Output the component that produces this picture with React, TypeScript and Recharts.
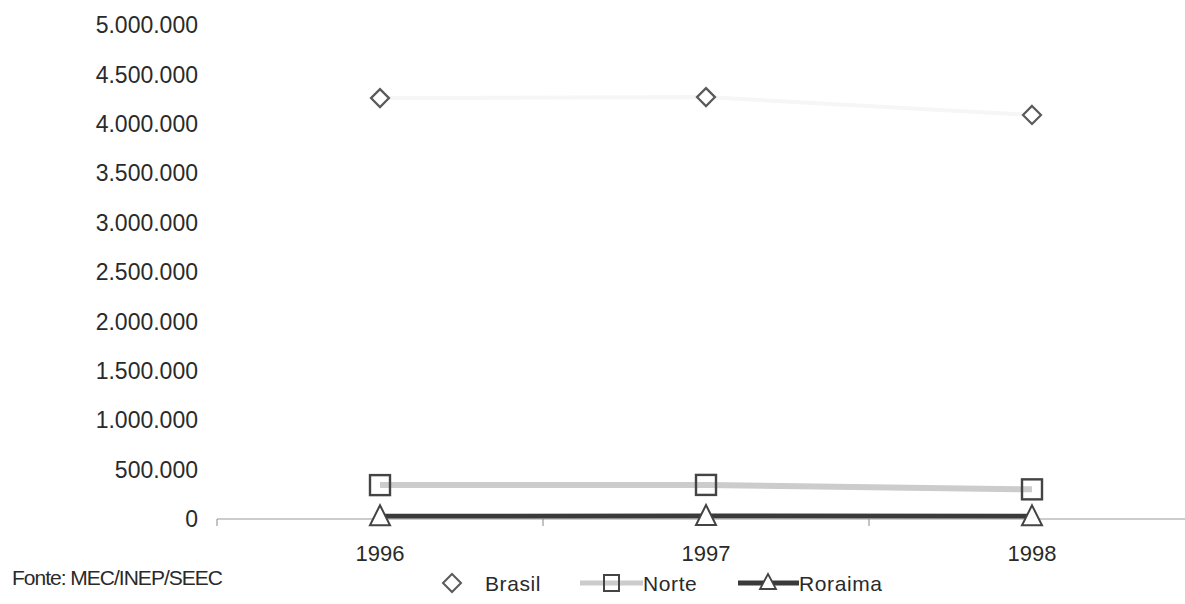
import React from "react";
import { LineChart, Line, XAxis, YAxis } from "recharts";

const years = [1996, 1997, 1998];
const brasil = [4260000, 4270000, 4090000];
const norte = [343000, 345000, 300000];
const roraima = [28000, 30000, 27000];
const yTicks = [0, 500000, 1000000, 1500000, 2000000, 2500000, 3000000, 3500000, 4000000, 4500000, 5000000];
const xTicks = [1995.5, 1996, 1996.5, 1997, 1997.5, 1998, 1998.5];

const data = years.map((year, i) => ({
  year,
  brasil: brasil[i],
  norte: norte[i],
  roraima: roraima[i]
}));

const font = "'Liberation Sans', Arial, sans-serif";

const fmt = (v: number) => v.toLocaleString("de-DE");

const Diamond = (props: any) => {
  const { cx, cy, index } = props;
  const r = 9;
  return (
    <path
      key={`d-${index}`}
      d={`M${cx},${cy - r}L${cx + r},${cy}L${cx},${cy + r}L${cx - r},${cy}Z`}
      fill="#fff"
      stroke="#5a5a5a"
      strokeWidth={2.2}
    />
  );
};

const Square = (props: any) => {
  const { cx, cy, index } = props;
  return (
    <rect
      key={`s-${index}`}
      x={cx - 10}
      y={cy - 10}
      width={20}
      height={20}
      fill="none"
      stroke="#444"
      strokeWidth={2.4}
    />
  );
};

const Triangle = (props: any) => {
  const { cx, cy, index } = props;
  return (
    <path
      key={`t-${index}`}
      d={`M${cx},${cy - 11}L${cx + 10},${cy + 9}L${cx - 10},${cy + 9}Z`}
      fill="#fff"
      stroke="#444"
      strokeWidth={2}
    />
  );
};

const XTick = (props: any) => {
  const { x, y, payload } = props;
  const v = payload.value as number;
  if (v % 1 !== 0) {
    return <line x1={x} x2={x} y1={y} y2={y + 7} stroke="#888" strokeWidth={1} />;
  }
  return (
    <text x={x} y={y + 42} textAnchor="middle" fontFamily={font} fontSize={22} fill="#2a2a2a">
      {v}
    </text>
  );
};

export default function App() {
  return (
    <div style={{ position: "absolute", left: 0, top: 0, width: 1185, height: 604, overflow: "hidden", background: "#fff" }}>
      <LineChart
        width={1195}
        height={604}
        data={data}
        margin={{ top: 25, right: 0, bottom: 0, left: 0 }}
      >
        <XAxis
          dataKey="year"
          type="number"
          domain={[1995.5, 1998.5]}
          ticks={xTicks}
          interval={0}
          tickSize={0}
          tickMargin={0}
          tickLine={false}
          tick={<XTick />}
          axisLine={{ stroke: "#999", strokeWidth: 1 }}
          height={85}
        />
        <YAxis
          domain={[0, 5000000]}
          ticks={yTicks}
          interval={0}
          width={217}
          tickSize={0}
          tickMargin={19}
          tickLine={false}
          axisLine={false}
          tickFormatter={fmt}
          tick={{ fontFamily: font, fontSize: 23, fill: "#2a2a2a" }}
        />
        <Line
          dataKey="brasil"
          stroke="#f6f6f6"
          strokeWidth={4}
          dot={Diamond}
          isAnimationActive={false}
        />
        <Line
          dataKey="norte"
          stroke="#cccccc"
          strokeWidth={6}
          dot={Square}
          isAnimationActive={false}
        />
        <Line
          dataKey="roraima"
          stroke="#3a3a3a"
          strokeWidth={5}
          dot={Triangle}
          isAnimationActive={false}
        />
      </LineChart>

      <div
        style={{
          position: "absolute",
          left: 12,
          top: 566,
          fontFamily: font,
          fontSize: 21,
          letterSpacing: -1,
          color: "#2a2a2a"
        }}
      >
        Fonte: MEC/INEP/SEEC
      </div>

      <svg style={{ position: "absolute", left: 0, top: 565 }} width={1185} height={39}>
        <path d="M452,9L461,18L452,27L443,18Z" fill="#fff" stroke="#5a5a5a" strokeWidth={2} />
        <text x={485} y={26} fontFamily={font} fontSize={21} letterSpacing={0.6} fill="#2a2a2a">
          Brasil
        </text>
        <line x1={580} x2={643} y1={18} y2={18} stroke="#cccccc" strokeWidth={5} />
        <rect x={604} y={10} width={15} height={16} fill="none" stroke="#444" strokeWidth={2} />
        <text x={643} y={26} fontFamily={font} fontSize={21} letterSpacing={0.6} fill="#2a2a2a">
          Norte
        </text>
        <line x1={738} x2={799} y1={18} y2={18} stroke="#3a3a3a" strokeWidth={5} />
        <path d="M768,9L776,24L760,24Z" fill="#fff" stroke="#444" strokeWidth={1.8} />
        <text x={799} y={26} fontFamily={font} fontSize={21} letterSpacing={0.6} fill="#2a2a2a">
          Roraima
        </text>
      </svg>
    </div>
  );
}
